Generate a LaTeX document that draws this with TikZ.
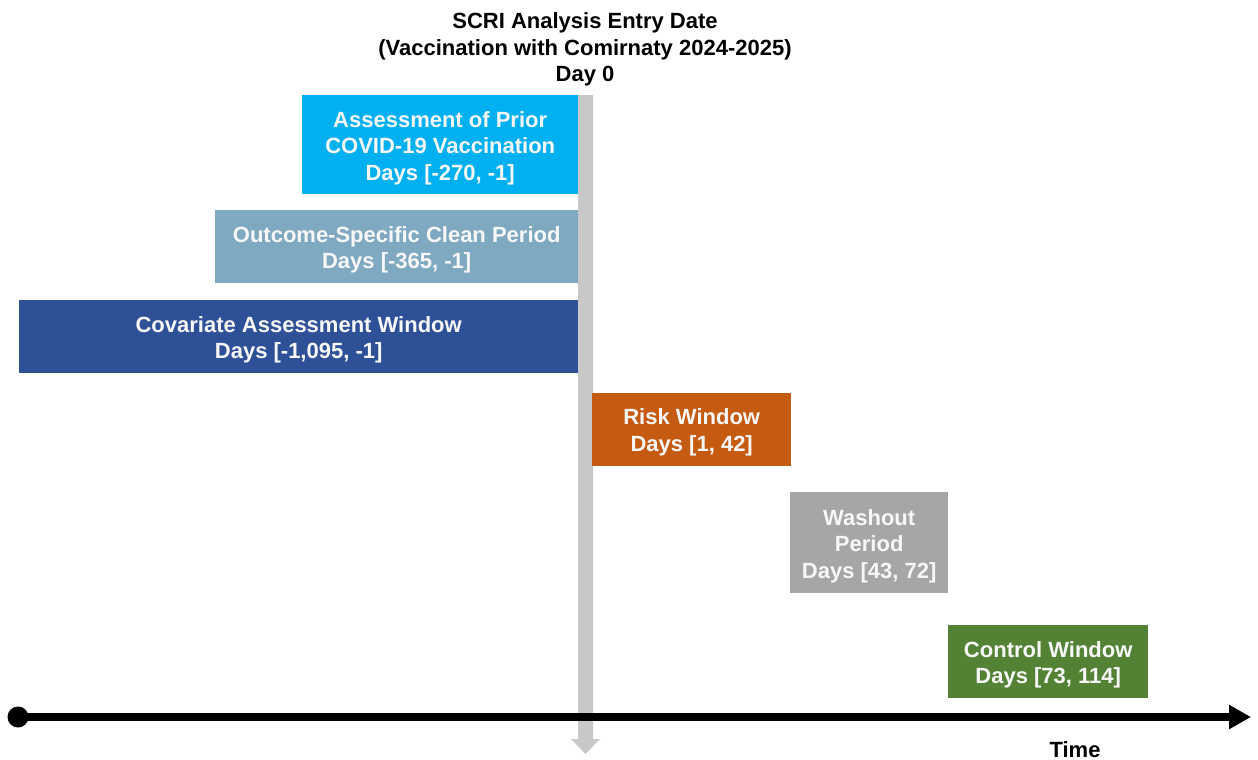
\documentclass[tikz,border=0pt]{standalone}
\usepackage{fontspec}
\setmainfont{Liberation Sans}
\usetikzlibrary{arrows.meta}
\definecolor{cAssess}{HTML}{00B0F0}
\definecolor{cClean}{HTML}{7FA8C1}
\definecolor{cCov}{HTML}{2E5096}
\definecolor{cRisk}{HTML}{C55A11}
\definecolor{cWash}{HTML}{A6A6A6}
\definecolor{cCtrl}{HTML}{548235}
\definecolor{cBar}{HTML}{C8C8C8}
\definecolor{cTxt}{HTML}{F7F7F7}
\tikzset{
  win/.style={anchor=north west, inner sep=0pt, draw=none},
  wtxt/.style={inner sep=0pt, text=cTxt,
    font=\fontsize{22}{26.4}\selectfont\bfseries, align=center},
  lbl/.style={inner sep=0pt, text=black,
    font=\fontsize{22}{26.4}\selectfont\bfseries, align=center},
}
\begin{document}
\begin{tikzpicture}[x=1pt,y=-1pt]
\useasboundingbox (0,0) rectangle (1258,760);
% vertical Day 0 arrow
\coordinate (vtop) at (585.5,95);
\coordinate (vbot) at (585.5,754);
\fill[cBar] (578,95) -- (593,95) -- (593,739) -- (600,739) -- (vbot) -- (571,739) -- (578,739) -- cycle;
% title
\node[lbl] (title) at (585,49.5) {SCRI Analysis Entry Date\\(Vaccination with Comirnaty 2024-2025)\\Day 0};
% windows
\node[win, fill=cAssess, minimum width=276pt, minimum height=99pt] (assess) at (302,95) {};
\node[wtxt] (assessT) at ([yshift=-3.5pt]assess.center) {Assessment of Prior\\COVID-19 Vaccination\\Days [-270, -1]};
\node[win, fill=cClean, minimum width=363pt, minimum height=73pt] (clean) at (215,210) {};
\node[wtxt] (cleanT) at ([yshift=-3pt]clean.center) {Outcome-Specific Clean Period\\Days [-365, -1]};
\node[win, fill=cCov, minimum width=559pt, minimum height=73pt] (cov) at (19,300) {};
\node[wtxt] (covT) at ([yshift=-3pt]cov.center) {Covariate Assessment Window\\Days [-1,095, -1]};
\node[win, fill=cRisk, minimum width=199pt, minimum height=73pt] (risk) at (592,393) {};
\node[wtxt] (riskT) at ([yshift=-2.5pt]risk.center) {Risk Window\\Days [1, 42]};
\node[win, fill=cWash, minimum width=158pt, minimum height=101pt] (wash) at (790,492) {};
\node[wtxt] (washT) at ([yshift=-3.5pt]wash.center) {Washout\\Period\\Days [43, 72]};
\node[win, fill=cCtrl, minimum width=200pt, minimum height=73pt] (ctrl) at (948,625) {};
\node[wtxt] (ctrlT) at ([yshift=-3pt]ctrl.center) {Control Window\\Days [73, 114]};
% timeline
\node[circle, fill=black, inner sep=0pt, minimum size=21pt] (dot) at (18,717) {};
\coordinate (tend) at (1251,717);
\draw[line width=8pt, -{Triangle[length=22pt,width=23pt]}] (dot.center) -- (tend);
\node[lbl] (time) at (1075,750) {Time};
\end{tikzpicture}
\end{document}
